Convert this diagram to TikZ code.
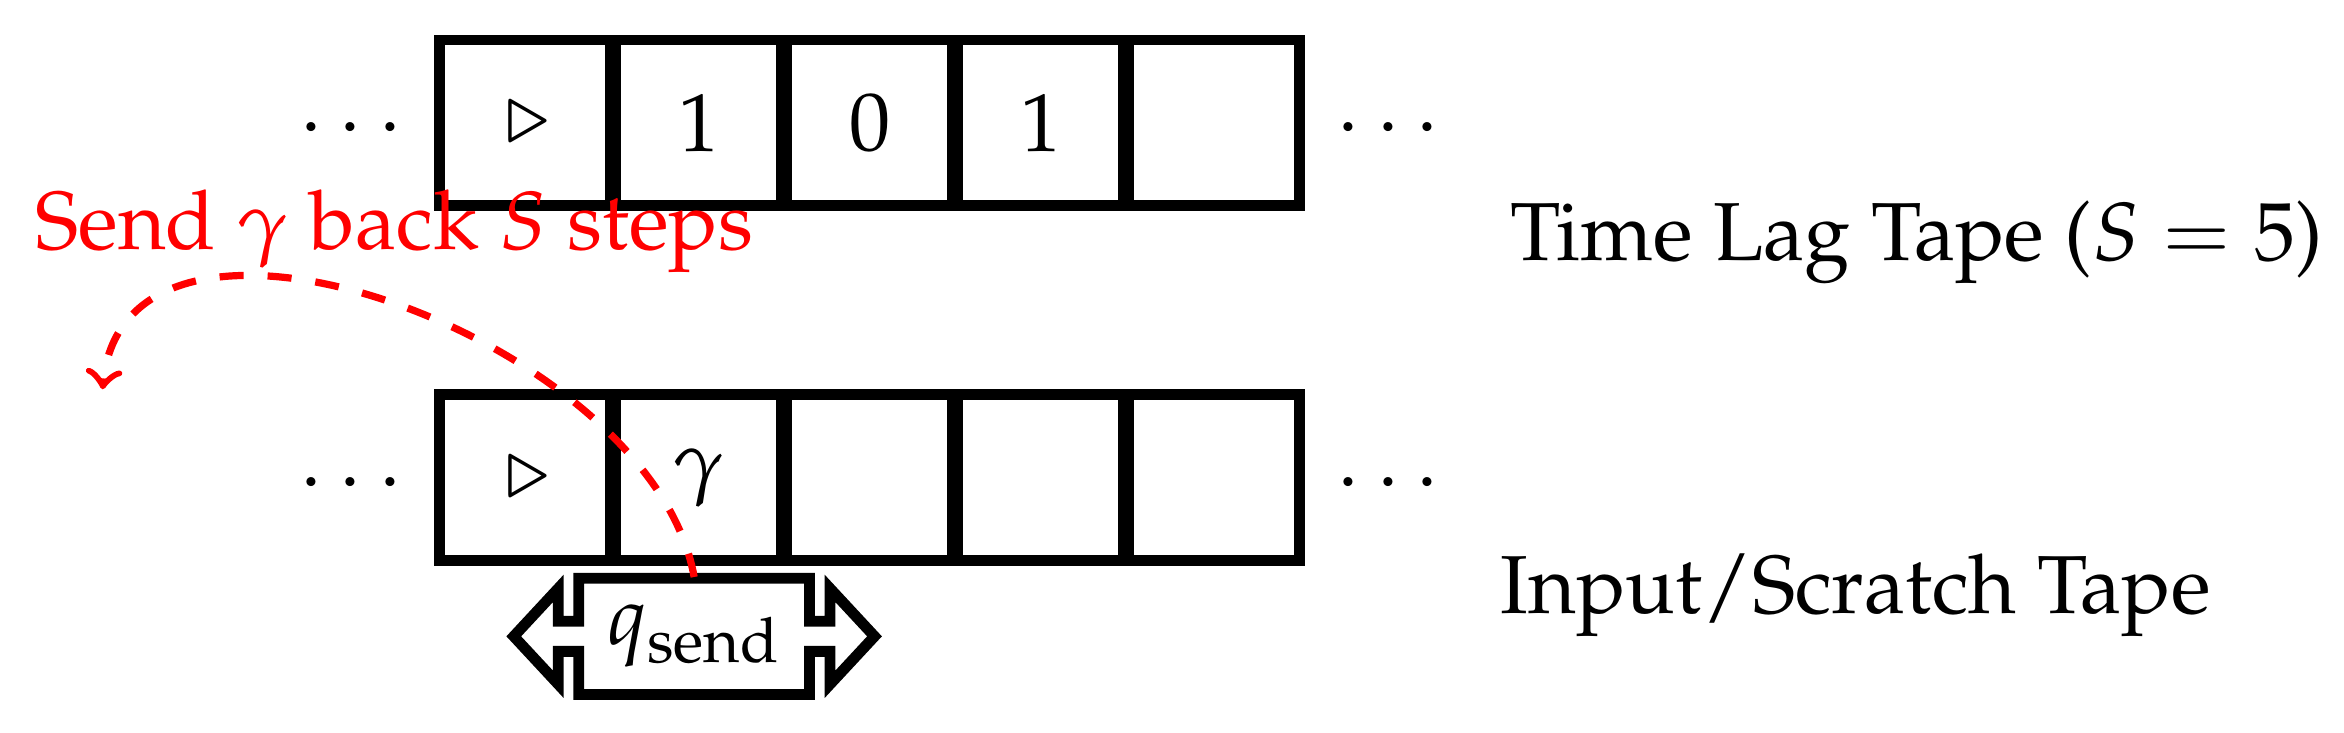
\documentclass[tikz,border=0pt]{standalone}
\usepackage[T1]{fontenc}
\usepackage{mathpazo}
\newcommand\tapefont{\fontsize{13.7}{16.4}\selectfont}
\tikzset{
	cell/.style={draw, line width=1.8pt, minimum width=1.03cm,
		minimum height=0.97cm, inner sep=0pt, font=\tapefont},
	tapename/.style={anchor=base west, inner sep=0pt, font=\tapefont},
}
\begin{document}
\begin{tikzpicture}[>=to]
	\useasboundingbox (0,0) rectangle (13.71,4.287);

	\foreach \s [count=\i] in {$\triangleright$,1,0,1,{}}
		\node[cell] (t\i) at (2.087+\i,3.568) {\s};
	\foreach \s [count=\i] in {$\triangleright$,$\gamma$,{},{},{}}
		\node[cell] (b\i) at (2.087+\i,1.494) {\s};

	\node[font=\tapefont] (tl) at (2.05,3.53) {$\cdots$};
	\node[font=\tapefont] (tr) at (8.12,3.53) {$\cdots$};
	\node[font=\tapefont] (bl) at (2.05,1.455) {$\cdots$};
	\node[font=\tapefont] (br) at (8.12,1.455) {$\cdots$};

	\node[tapename] (lagname) at (8.83,2.766) {Time Lag Tape ($S = 5$)};
	\node[tapename] (inname) at (8.77,0.70) {Input/Scratch Tape};

	\node[font=\tapefont, minimum width=1.35cm, minimum height=0.68cm,
		inner sep=0pt] (head) at (4.06,0.565) {$q_{\mathrm{send}}$};
	\begin{scope}[shift={(head.center)}, line width=1.8pt]
		\draw (-0.675,0.34) -- (-0.675,0.088) -- (-0.795,0.088)
			-- (-0.795,0.28) -- (-1.055,0) -- (-0.795,-0.28)
			-- (-0.795,-0.088) -- (-0.675,-0.088) -- (-0.675,-0.34)
			-- (0.675,-0.34) -- (0.675,-0.088) -- (0.795,-0.088)
			-- (0.795,-0.28) -- (1.055,0) -- (0.795,0.28)
			-- (0.795,0.088) -- (0.675,0.088) -- (0.675,0.34) -- cycle;
	\end{scope}

	\node[tapename, text=red] (sendnote) at (0.20,2.83)
		{Send $\gamma$ back $S$ steps};
	\coordinate (back) at (0.60,2.01);
	\draw[->, red, very thick, dash pattern=on 4pt off 4pt]
		(head.north) to[out=100, in=85] (back);
\end{tikzpicture}
\end{document}
